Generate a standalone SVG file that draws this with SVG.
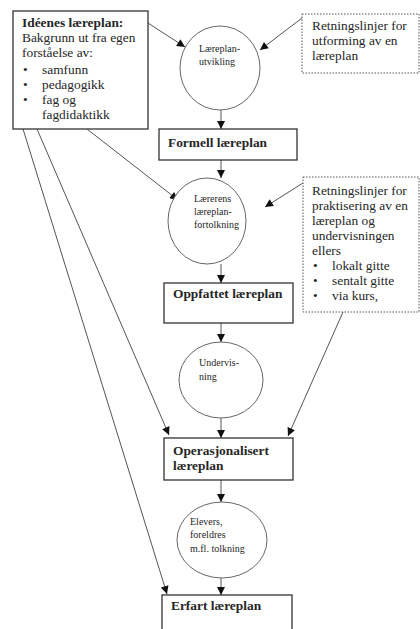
<svg xmlns="http://www.w3.org/2000/svg" width="420" height="629" viewBox="0 0 420 629" font-family="'Liberation Serif', 'DejaVu Serif', serif">
<defs>
<style>
text{font-family:'Liberation Serif','DejaVu Serif',serif;fill:#262626}
.t{font-size:13.4px}
.b{font-size:13.4px;font-weight:bold}
.s{font-size:10px}
.box{fill:#fff;stroke:#333;stroke-width:1.3}
.dot{fill:#fff;stroke:#555;stroke-width:1;stroke-dasharray:1.5 1.5}
.node{fill:#fff;stroke:#666;stroke-width:1}
.c line{stroke:#555;stroke-width:1;marker-end:url(#ah)}
</style>
<marker id="ah" viewBox="0 0 10 10" refX="10" refY="5" markerWidth="9" markerHeight="8" markerUnits="userSpaceOnUse" orient="auto">
<path d="M0,0 L10,5 L0,10 z" fill="#111"/>
</marker>
</defs>
<rect width="420" height="629" fill="#fff"/>
<g id="connectors" class="c">
<line x1="148" y1="23" x2="185" y2="47"/>
<line x1="302" y1="18" x2="260" y2="50"/>
<line x1="221" y1="110" x2="221" y2="129"/>
<line x1="221" y1="160" x2="221" y2="178"/>
<line x1="87" y1="129" x2="178" y2="200"/>
<line x1="303" y1="183" x2="265" y2="207"/>
<line x1="221" y1="264" x2="221" y2="283"/>
<line x1="221" y1="323" x2="221" y2="342"/>
<line x1="37" y1="129" x2="169" y2="435"/>
<line x1="343" y1="312" x2="288" y2="436"/>
<line x1="221" y1="418" x2="221" y2="438"/>
<line x1="221" y1="480" x2="221" y2="502"/>
<line x1="23" y1="129" x2="167" y2="594"/>
<line x1="221" y1="578" x2="221" y2="595"/>
</g>
<g id="ideenes">
<rect class="box" x="13" y="11" width="135" height="118"/>
<text class="b" x="22" y="27">Idéenes læreplan:</text>
<text class="t" x="22" y="42">Bakgrunn ut fra egen</text>
<text class="t" x="22" y="57">forståelse av:</text>
<text class="t" x="23" y="74">•</text><text class="t" x="42" y="74">samfunn</text>
<text class="t" x="23" y="89">•</text><text class="t" x="42" y="89">pedagogikk</text>
<text class="t" x="23" y="104">•</text><text class="t" x="42" y="104">fag og</text>
<text class="t" x="42" y="119">fagdidaktikk</text>
</g>
<g id="retning1">
<rect class="dot" x="302" y="14" width="117" height="59"/>
<text class="t" x="312" y="30">Retningslinjer for</text>
<text class="t" x="312" y="45">utforming av en</text>
<text class="t" x="312" y="60">læreplan</text>
</g>
<g id="utvikling">
<ellipse class="node" cx="220" cy="68" rx="40" ry="42"/>
<text class="s" x="199" y="52">Læreplan-</text>
<text class="s" x="199" y="65">utvikling</text>
</g>
<g id="formell">
<rect class="box" x="159" y="129" width="138" height="31"/>
<text class="b" x="168" y="147">Formell læreplan</text>
</g>
<g id="fortolkning">
<ellipse class="node" cx="207" cy="221" rx="39" ry="43"/>
<text class="s" x="194" y="202">Lærerens</text>
<text class="s" x="194" y="215">læreplan-</text>
<text class="s" x="194" y="228">fortolkning</text>
</g>
<g id="retning2">
<rect class="dot" x="303" y="177" width="116" height="135"/>
<text class="t" x="312" y="195">Retningslinjer for</text>
<text class="t" x="312" y="210">praktisering av en</text>
<text class="t" x="312" y="225">læreplan og</text>
<text class="t" x="312" y="240">undervisningen</text>
<text class="t" x="312" y="255">ellers</text>
<text class="t" x="313" y="270">•</text><text class="t" x="332" y="270">lokalt gitte</text>
<text class="t" x="313" y="285">•</text><text class="t" x="332" y="285">sentalt gitte</text>
<text class="t" x="313" y="300">•</text><text class="t" x="332" y="300">via kurs,</text>
</g>
<g id="oppfattet">
<rect class="box" x="164" y="283" width="129" height="40"/>
<text class="b" x="173" y="298">Oppfattet læreplan</text>
</g>
<g id="undervisning">
<ellipse class="node" cx="221" cy="380" rx="42" ry="38"/>
<text class="s" x="199" y="366">Undervis-</text>
<text class="s" x="199" y="380">ning</text>
</g>
<g id="operasjonalisert">
<rect class="box" x="164" y="438" width="129" height="42"/>
<text class="b" x="173" y="455">Operasjonalisert</text>
<text class="b" x="173" y="470">læreplan</text>
</g>
<g id="elevers">
<ellipse class="node" cx="222" cy="540" rx="45" ry="38"/>
<text class="s" x="190" y="525">Elevers,</text>
<text class="s" x="190" y="538">foreldres</text>
<text class="s" x="190" y="552">m.fl. tolkning</text>
</g>
<g id="erfart">
<rect class="box" x="162" y="595" width="130" height="45"/>
<text class="b" x="171" y="610">Erfart læreplan</text>
</g>
</svg>
